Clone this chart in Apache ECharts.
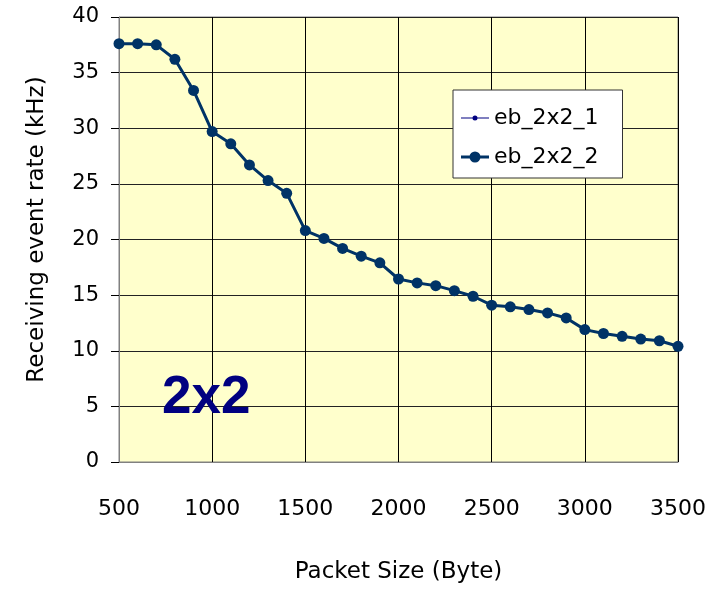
<!DOCTYPE html>
<html>
<head>
<meta charset="utf-8">
<script src="https://cdn.jsdelivr.net/npm/echarts@6/dist/echarts.min.js"></script>
<style>
  html, body { margin: 0; padding: 0; background: #ffffff; }
  #chart { width: 711px; height: 589px; }
</style>
</head>
<body>
<div id="chart"></div>
<script>
// Packet sizes (bytes) and receiving event rates (kHz)
const packetSizes = [500, 600, 700, 800, 900, 1000, 1100, 1200, 1300, 1400, 1500, 1600, 1700, 1800, 1900,
  2000, 2100, 2200, 2300, 2400, 2500, 2600, 2700, 2800, 2900, 3000, 3100, 3200, 3300, 3400, 3500];
const rate1 = [37.6, 37.6, 37.5, 36.2, 33.4, 29.7, 28.6, 26.7, 25.3, 24.15, 20.8, 20.1, 19.2, 18.5, 17.9,
  16.45, 16.1, 15.85, 15.4, 14.9, 14.1, 13.95, 13.7, 13.4, 12.95, 11.9, 11.55, 11.3, 11.05, 10.9, 10.4];
const rate2 = [37.6, 37.6, 37.5, 36.2, 33.4, 29.7, 28.6, 26.7, 25.3, 24.15, 20.8, 20.1, 19.2, 18.5, 17.9,
  16.45, 16.1, 15.85, 15.4, 14.9, 14.1, 13.95, 13.7, 13.4, 12.95, 11.9, 11.55, 11.3, 11.05, 10.9, 10.4];
const seriesNames = ['eb_2x2_1', 'eb_2x2_2'];

const FONT = '"DejaVu Sans", "Noto Sans", sans-serif';

// Legend glyphs: a line through a dot, thin/small and thick/large (all sub-paths clockwise)
const ICON_THIN = 'path://M0,5.5 L28,5.5 L28,6.5 L0,6.5 Z M11.5,6 A2.5,2.5 0 1,1 16.5,6 A2.5,2.5 0 1,1 11.5,6 Z';
const ICON_THICK = 'path://M0,4.5 L28,4.5 L28,7.5 L0,7.5 Z M8.5,6 A5.5,5.5 0 1,1 19.5,6 A5.5,5.5 0 1,1 8.5,6 Z';

const chart = echarts.init(document.getElementById('chart'), null, { renderer: 'canvas' });

const pairs = (xs, ys) => xs.map((x, i) => [x, ys[i]]);

chart.setOption({
  backgroundColor: '#ffffff',
  animation: false,
  grid: {
    left: 119, right: 33, top: 17, bottom: 127,
    show: true,
    backgroundColor: '#FFFFCC',
    borderColor: '#808080',
    borderWidth: 1
  },
  xAxis: {
    type: 'value',
    min: 500, max: 3500, interval: 500,
    name: 'Packet Size (Byte)',
    nameLocation: 'middle',
    nameGap: 99,
    nameTextStyle: { fontFamily: FONT, fontSize: 23, color: '#000' },
    axisLine: { show: true, onZero: false, lineStyle: { color: '#808080', width: 1 } },
    axisTick: { show: false },
    axisLabel: {
      margin: 36, fontFamily: FONT, fontSize: 22, color: '#000',
      formatter: (v) => String(v)
    },
    splitLine: { show: true, lineStyle: { color: '#000000', width: 1 } }
  },
  yAxis: {
    type: 'value',
    min: 0, max: 40, interval: 5,
    name: 'Receiving event rate (kHz)',
    nameLocation: 'middle',
    nameGap: 70,
    nameTextStyle: { fontFamily: FONT, fontSize: 23, color: '#000', padding: [0, 0, 0, 20] },
    axisLine: { show: true, lineStyle: { color: '#808080', width: 1 } },
    axisTick: { show: true, inside: false, length: 8, lineStyle: { color: '#000' } },
    axisLabel: { margin: 20, fontFamily: FONT, fontSize: 21, color: '#000' },
    splitLine: { show: true, lineStyle: { color: '#222222', width: 1 } }
  },
  legend: {
    left: 453, top: 90,
    orient: 'vertical',
    backgroundColor: '#ffffff',
    borderColor: '#333333',
    borderWidth: 1,
    borderRadius: 0,
    padding: [16, 24, 9, 8],
    itemGap: 15,
    itemWidth: 28,
    itemHeight: 12,
    textStyle: { fontFamily: FONT, fontSize: 22, lineHeight: 24, color: '#000' },
    data: [
      { name: seriesNames[0], icon: ICON_THIN },
      { name: seriesNames[1], icon: ICON_THICK }
    ]
  },
  graphic: [{
    type: 'text',
    left: 162, top: 372,
    style: {
      text: '2x2',
      font: 'bold 53px "Liberation Sans", Arial, sans-serif',
      fill: '#000080',
      shadowColor: 'rgba(130,130,150,0.85)',
      shadowOffsetX: 3,
      shadowOffsetY: 3,
      shadowBlur: 1
    },
    z: 10
  }],
  series: [
    {
      name: seriesNames[0],
      type: 'line',
      data: pairs(packetSizes, rate1),
      symbol: 'circle',
      symbolSize: 5,
      lineStyle: { color: '#000080', width: 1 },
      itemStyle: { color: '#000080' },
      z: 2
    },
    {
      name: seriesNames[1],
      type: 'line',
      data: pairs(packetSizes, rate2),
      symbol: 'circle',
      symbolSize: 11,
      lineStyle: { color: '#003366', width: 3 },
      itemStyle: { color: '#003366' },
      z: 3
    }
  ]
});
</script>
</body>
</html>
